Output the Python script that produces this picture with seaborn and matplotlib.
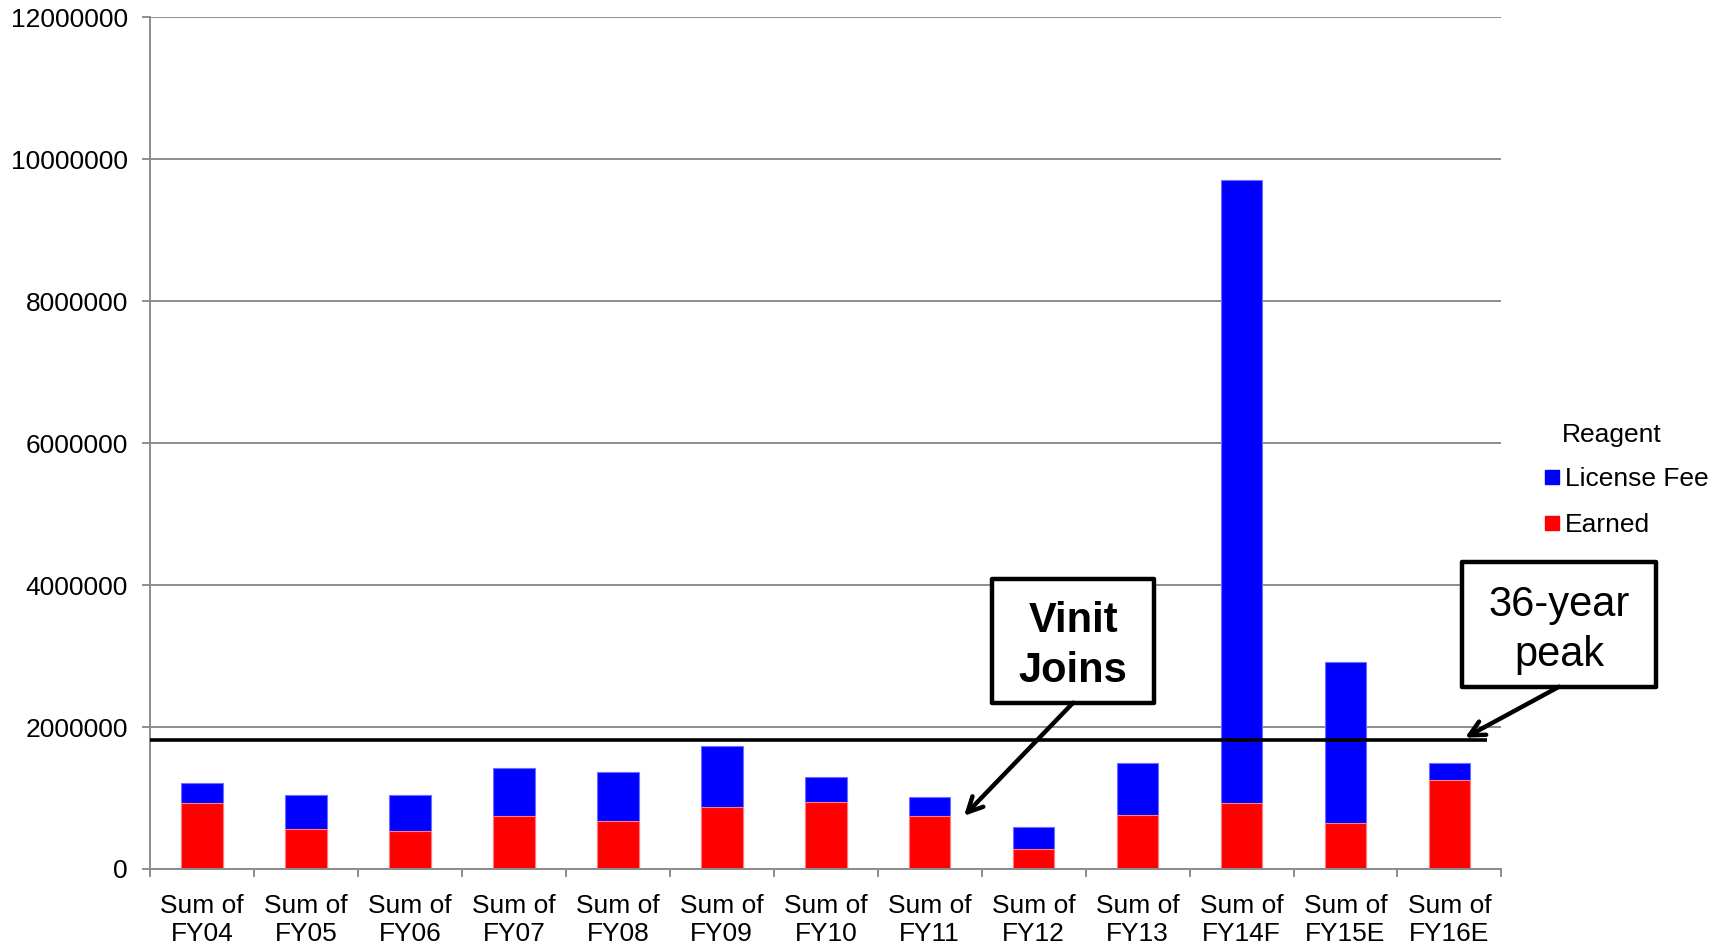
import matplotlib
matplotlib.use("Agg")
import matplotlib.pyplot as plt
from matplotlib.lines import Line2D
from matplotlib.patches import Rectangle
import seaborn as sns
import pandas as pd

# Fiscal-year categories and the two stacked components
categories = ["Sum of\nFY04", "Sum of\nFY05", "Sum of\nFY06", "Sum of\nFY07",
              "Sum of\nFY08", "Sum of\nFY09", "Sum of\nFY10", "Sum of\nFY11",
              "Sum of\nFY12", "Sum of\nFY13", "Sum of\nFY14F", "Sum of\nFY15E",
              "Sum of\nFY16E"]
earned = [930000, 565000, 540000, 744000, 677000, 868000, 946000, 744000,
          280000, 755000, 928000, 643000, 1252000]
license_fee = [284000, 479000, 500000, 681000, 683000, 868000, 354000, 266000,
               310000, 745000, 8782000, 2272000, 238000]
y_ticks = [0, 2000000, 4000000, 6000000, 8000000, 10000000, 12000000]
peak_level = 1820000

series_names = ["License Fee", "Earned"]
series_colors = {"License Fee": "#0000ff", "Earned": "#ff0000"}

df = pd.DataFrame({
    "category": categories,
    "earned": earned,
    "license_fee": license_fee,
})
df["total"] = df["earned"] + df["license_fee"]

sns.set_theme(style="white")
plt.rcParams["font.family"] = ["Liberation Sans", "DejaVu Sans"]
plt.rcParams["text.color"] = "black"
plt.rcParams["legend.labelcolor"] = "black"

FS = 19

fig = plt.figure(figsize=(17.25, 9.46), dpi=100)
ax = fig.add_axes([0.087, 0.0814, 0.7834, 0.9003])

# Stacked bars: full height in blue, earned portion in red on top of it
sns.barplot(data=df, x="category", y="total", color=series_colors["License Fee"],
            saturation=1, width=0.4, ax=ax, edgecolor="#6f6fff", linewidth=0.8)
sns.barplot(data=df, x="category", y="earned", color=series_colors["Earned"],
            saturation=1, width=0.4, ax=ax, edgecolor="#ff8080", linewidth=0.8)

ax.set_xlim(-0.5, len(categories) - 0.5)
ax.set_ylim(0, 12000000)
ax.set_yticks(y_ticks)
ax.set_yticklabels([str(v) for v in y_ticks])
ax.set_xlabel("")
ax.set_ylabel("")

# Horizontal gridlines
ax.grid(axis="y", color="#8c8c8c", linewidth=1.4)
ax.grid(axis="x", visible=False)
ax.set_axisbelow(True)

for side in ["top", "right"]:
    ax.spines[side].set_visible(False)
for side in ["left", "bottom"]:
    ax.spines[side].set_color("#8c8c8c")
    ax.spines[side].set_linewidth(1.4)

# Category ticks sit between the bars
ax.set_xticks([i - 0.5 for i in range(len(categories) + 1)], minor=True)
ax.tick_params(axis="x", which="major", length=0, pad=18, labelsize=FS,
               labelcolor="black")
ax.tick_params(axis="x", which="minor", length=6, width=1.4, color="#8c8c8c",
               direction="out", bottom=True)
ax.tick_params(axis="y", length=6, width=1.4, color="#8c8c8c", direction="out",
               left=True, pad=10, labelsize=FS, labelcolor="black")
for lbl in ax.get_xticklabels():
    lbl.set_linespacing(1.2)

# Peak reference line
ax.plot([-0.5, 12.36], [peak_level, peak_level], color="black", linewidth=2.6,
        solid_capstyle="butt", zorder=5)

arrow = dict(arrowstyle="->,head_length=0.9,head_width=0.45", color="black",
             linewidth=3.2, shrinkA=0, shrinkB=0)


def callout(text, x0, x1, y0, y1, tip, bold):
    """Boxed label spanning [x0, x1] x [y0, y1] with an arrow from its bottom to tip."""
    ax.add_patch(Rectangle((x0, y0), x1 - x0, y1 - y0, facecolor="white",
                           edgecolor="black", linewidth=3.2, joinstyle="round",
                           clip_on=False, zorder=6))
    ax.text((x0 + x1) / 2, (y0 + y1) / 2 - 80000, text, ha="center", va="center",
            fontsize=30, fontweight="bold" if bold else "normal",
            linespacing=1.33, color="black", zorder=7, clip_on=False)
    ax.annotate("", xy=tip, xytext=((x0 + x1) / 2, y0), arrowprops=arrow,
                annotation_clip=False, zorder=6)


callout("Vinit\nJoins", 7.60, 9.16, 2343000, 4093000, (7.33, 748000), True)
callout("36-year\npeak", 12.12, 13.99, 2569000, 4319000, (12.15, 1850000), False)

# Legend
handles = [Line2D([0], [0], marker="s", linestyle="none", markersize=10,
                  markerfacecolor=series_colors[n], markeredgecolor=series_colors[n])
           for n in series_names]
fig.legend(handles, series_names, loc="upper left",
           bbox_to_anchor=(0.8845, 0.526), frameon=False, fontsize=FS,
           handlelength=0.6, handletextpad=0.2, labelspacing=0.85,
           borderpad=0.2, labelcolor="black")
fig.text(0.9055, 0.5405, "Reagent", fontsize=FS, color="black",
         ha="left", va="center")

fig.savefig("out.png", dpi=100, facecolor="white")
